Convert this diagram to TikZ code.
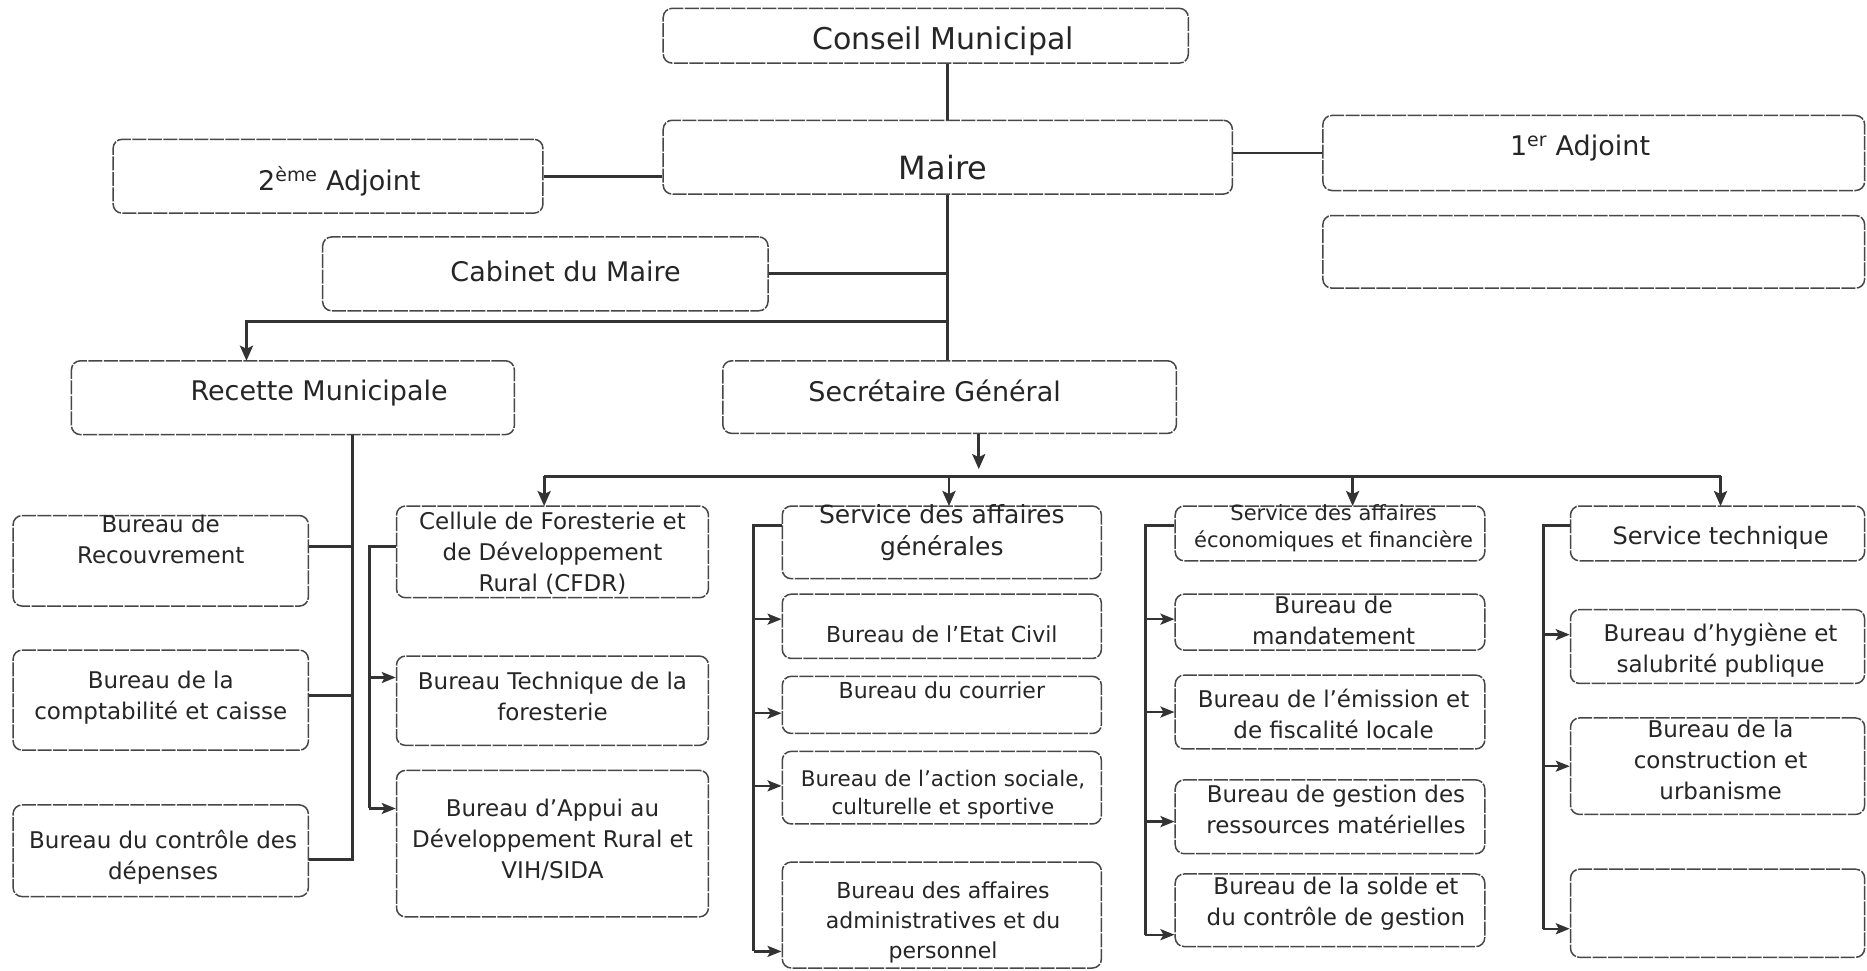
\documentclass[tikz,border=0pt]{standalone}
\usepackage{fontspec}
\setmainfont{DejaVu Sans}
\usetikzlibrary{arrows.meta,fit,calc}
\newcommand\fs[2]{\fontsize{#1}{#2}\selectfont}
\newcommand\obox[6]{%
  \node[box,fit={#2 #3}] (#1) {};
  \node[txt,font=#5] (#1-t) at #4 {#6};}
\begin{document}
\begin{tikzpicture}[x=1.1907pt,y=-1.1907pt,
  box/.style={draw=black!72,line width=1.5pt,rounded corners=9pt,inner sep=0pt,dash pattern=on 14pt off 1.5pt},
  txt/.style={align=center,text=black!85,inner sep=0pt},
  conn/.style={draw=black!80,line width=2.8pt},
  arr/.style={conn,-{Stealth[length=15pt,width=13pt,inset=3pt]}},
  sarr/.style={conn,line width=2.4pt,-{Stealth[length=14pt,width=11pt,inset=3pt]}},
]
\path[use as bounding box,fill=white] (0,0) rectangle (1568,815);

% top level
\obox{conseil}{(557,7)}{(998,53)}{(792,35)}{\fs{30}{36}}{Conseil Municipal}
\obox{maire}{(557,101)}{(1035,163)}{(792,141)}{\fs{32}{38}}{Maire}
\obox{adj2}{(95,117)}{(456,179)}{(285,152)}{\fs{27}{32}}{2\textsuperscript{ème} Adjoint}
\obox{adj1}{(1111,97)}{(1566,160)}{(1327,124)}{\fs{27}{32}}{1\textsuperscript{er} Adjoint}
\node[box,fit={(1111,181) (1566,242)}] (adj1b) {};
\obox{cabinet}{(271,199)}{(645,261)}{(475,228)}{\fs{27}{32}}{Cabinet du Maire}
\obox{recette}{(60,303)}{(432,365)}{(268,330)}{\fs{27}{32}}{Recette Municipale}
\obox{sg}{(607,303)}{(988,364)}{(785,328)}{\fs{27}{32}}{Secrétaire Général}

% column 1
\obox{recouv}{(11,433)}{(259,509)}{(135,453)}{\fs{23}{31}}{Bureau de\\Recouvrement}
\obox{compta}{(11,546)}{(259,630)}{(135,586)}{\fs{23}{31}}{Bureau de la\\comptabilité et caisse}
\obox{controle}{(11,676)}{(259,753)}{(137,720)}{\fs{23}{31}}{Bureau du contrôle des\\dépenses}

% column 2
\obox{cfdr}{(333,425)}{(595,502)}{(464,465)}{\fs{23}{31}}{Cellule de Foresterie et\\de Développement\\Rural (CFDR)}
\obox{techfor}{(333,551)}{(595,626)}{(464,585)}{\fs{23}{31}}{Bureau Technique de la\\foresterie}
\obox{appui}{(333,647)}{(595,770)}{(464,705)}{\fs{23}{31}}{Bureau d’Appui au\\Développement Rural et\\VIH/SIDA}

% column 3
\obox{sag}{(657,425)}{(925,486)}{(791,447)}{\fs{25}{32}}{Service des affaires\\générales}
\obox{etat}{(657,499)}{(925,553)}{(791,533)}{\fs{22}{30}}{Bureau de l’Etat Civil}
\obox{courrier}{(657,568)}{(925,616)}{(791,580)}{\fs{22}{30}}{Bureau du courrier}
\obox{action}{(657,631)}{(925,692)}{(792,667)}{\fs{21.5}{28}}{Bureau de l’action sociale,\\culturelle et sportive}
\obox{admin}{(657,724)}{(925,813)}{(792,775)}{\fs{22}{30}}{Bureau des affaires\\administratives et du\\personnel}

% column 4
\obox{saef}{(987,425)}{(1247,471)}{(1120,444)}{\fs{21}{27}}{Service des affaires\\économiques et financière}
\obox{mandat}{(987,499)}{(1247,546)}{(1120,521)}{\fs{23}{31}}{Bureau de\\mandatement}
\obox{emission}{(987,567)}{(1247,629)}{(1120,600)}{\fs{23}{31}}{Bureau de l’émission et\\de fiscalité locale}
\obox{gestion}{(987,655)}{(1247,717)}{(1122,680)}{\fs{23}{31}}{Bureau de gestion des\\ressources matérielles}
\obox{solde}{(987,734)}{(1247,795)}{(1122,759)}{\fs{23}{31}}{Bureau de la solde et\\du contrôle de gestion}

% column 5
\obox{st}{(1319,425)}{(1566,471)}{(1445,452)}{\fs{24}{31}}{Service technique}
\obox{hygiene}{(1319,512)}{(1566,574)}{(1445,546)}{\fs{23}{31}}{Bureau d’hygiène et\\salubrité publique}
\obox{construct}{(1319,603)}{(1566,684)}{(1445,638)}{\fs{23}{31}}{Bureau de la\\construction et\\urbanisme}
\node[box,fit={(1319,730) (1566,804)}] (empty3) {};

% upper connectors
\draw[conn] (maire.north) -- (maire.north |- conseil.south);
\draw[conn] (maire.south) -- (maire.south |- sg.north);
\draw[conn] (adj2.east) -- (adj2.east -| maire.west);
\draw[conn] (maire.east |- adj1.west) -- (adj1.west);
\draw[conn] (cabinet.east) -- (cabinet.east -| maire.south);
\coordinate (j1) at (796,270);
\coordinate (rin) at (207,303);
\draw[arr] (j1) -| (rin);

% secretaire general bus
\coordinate (sgout) at ($(sg.south)+(24.5,0)$);
\coordinate (bus) at (822,400);
\draw[arr] (sgout) -- ($(bus)+(0,-6)$);
\coordinate (cfdr-in) at (457,425);
\coordinate (sag-in) at (797,425);
\coordinate (saef-in) at (1136,425);
\coordinate (st-in) at (1445,425);
\draw[conn] (cfdr-in |- bus) -- (st-in |- bus);
\foreach \c in {cfdr-in,sag-in,saef-in,st-in}
  \draw[arr] (\c |- bus) -- (\c);

% column 1 connectors
\coordinate (rb) at (296,365);
\coordinate (recouv-o) at ($(recouv.east)+(0,-12)$);
\coordinate (compta-o) at ($(compta.east)+(0,-4)$);
\coordinate (controle-o) at ($(controle.east)+(0,7.5)$);
\draw[conn] (rb) |- (controle-o);
\draw[conn] (recouv-o) -- (recouv-o -| rb);
\draw[conn] (compta-o) -- (compta-o -| rb);

% column 2 connectors
\coordinate (v2) at (310,459);
\coordinate (cfdr-o) at ($(cfdr.west)+(0,-4.5)$);
\coordinate (techfor-in) at ($(techfor.west)+(0,-19.5)$);
\coordinate (appui-in) at ($(appui.west)+(0,-29.5)$);
\draw[conn] (cfdr-o) -- (v2) -- (v2 |- appui-in);
\draw[sarr] (v2 |- techfor-in) -- (techfor-in);
\draw[sarr] (v2 |- appui-in) -- (appui-in);

% column 3 connectors
\coordinate (v3) at (633,441);
\coordinate (sag-o) at ($(sag.west)+(0,-14.5)$);
\coordinate (etat-in) at ($(etat.west)+(0,-6)$);
\coordinate (courrier-in) at ($(courrier.west)+(0,7)$);
\coordinate (action-in) at ($(action.west)+(0,-1.5)$);
\coordinate (admin-in) at ($(admin.west)+(0,30.5)$);
\draw[conn] (sag-o) -- (v3) -- (v3 |- admin-in);
\foreach \c in {etat-in,courrier-in,action-in,admin-in}
  \draw[sarr] (v3 |- \c) -- (\c);

% column 4 connectors
\coordinate (v4) at (962,441);
\coordinate (saef-o) at ($(saef.west)+(0,-7)$);
\coordinate (mandat-in) at ($(mandat.west)+(0,-2.5)$);
\coordinate (emission-in) at (emission.west);
\coordinate (gestion-in) at ($(gestion.west)+(0,4)$);
\coordinate (solde-in) at ($(solde.west)+(0,20.5)$);
\draw[conn] (saef-o) -- (v4) -- (v4 |- solde-in);
\foreach \c in {mandat-in,emission-in,gestion-in,solde-in}
  \draw[sarr] (v4 |- \c) -- (\c);

% column 5 connectors
\coordinate (v5) at (1296,441);
\coordinate (st-o) at ($(st.west)+(0,-7)$);
\coordinate (hygiene-in) at ($(hygiene.west)+(0,-10)$);
\coordinate (construct-in) at (construct.west);
\coordinate (empty3-in) at ($(empty3.west)+(0,13)$);
\draw[conn] (st-o) -- (v5) -- (v5 |- empty3-in);
\foreach \c in {hygiene-in,construct-in,empty3-in}
  \draw[sarr] (v5 |- \c) -- (\c);
\end{tikzpicture}
\end{document}
